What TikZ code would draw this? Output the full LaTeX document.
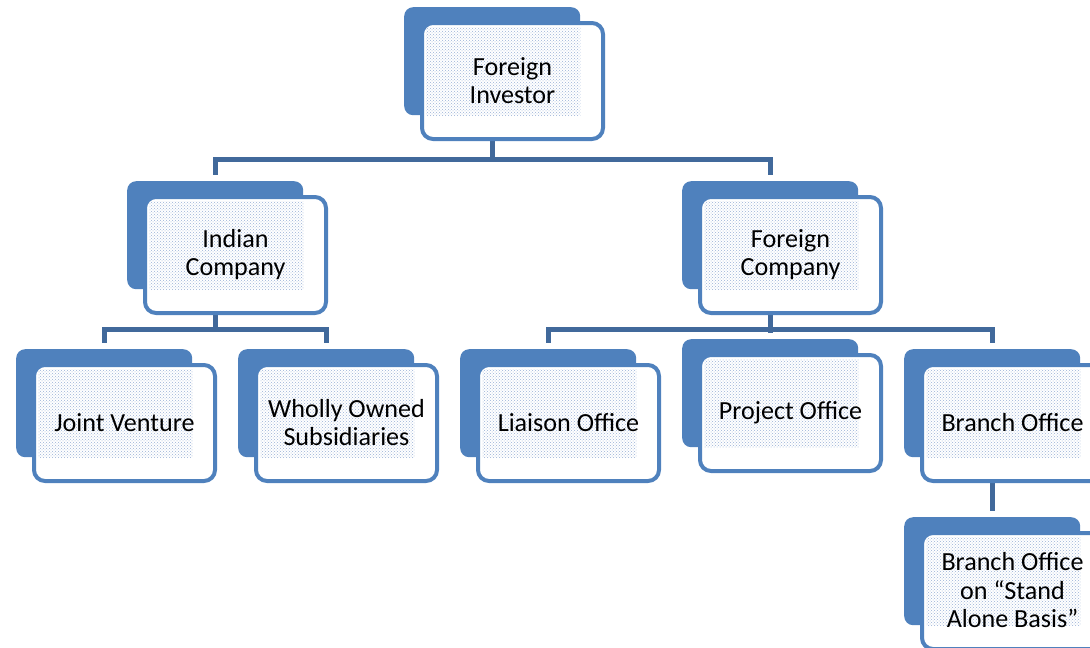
\documentclass[tikz,border=0pt]{standalone}
\usepackage{fontspec}
\setmainfont{Carlito}
\usepackage{tikz}
\usetikzlibrary{positioning,calc,patterns,backgrounds}

\definecolor{boxblue}{HTML}{4F81BD}
\definecolor{lineblue}{HTML}{41699B}
\definecolor{dotblue}{HTML}{9AB2D6}

\tikzset{
  backbox/.style={fill=boxblue, rounded corners=9pt, minimum width=176pt, minimum height=108pt, inner sep=0pt, anchor=north west},
  frontbox/.style={draw=boxblue, fill=white, line width=4pt, rounded corners=11pt, minimum width=181pt, minimum height=116pt, inner sep=0pt, anchor=north west},
  boxtext/.style={align=center, inner sep=0pt, font=\fontsize{26.1}{28.5}\selectfont},
  link/.style={draw=lineblue, line width=5pt},
}

% one unit of the chart: name, back box top-left (x,y), label
\newcommand{\orgunit}[4]{%
  \node[backbox] (#1-b) at (#2,#3) {};
  \node[frontbox] (#1-f) at ($(#1-b.north west)+(16,14)$) {};
  \fill[pattern=crosshatch dots, pattern color=dotblue] ($(#1-f.north west)+(6,6)$) rectangle (#1-b.south east);
  \node[boxtext] (#1) at ($(#1-f.center)+(0,-0.5)$) {#4};
}

\begin{document}
\begin{tikzpicture}[x=1pt, y=-1pt]
\useasboundingbox (0,0) rectangle (1090,648);
\clip (0,0) rectangle (1090,648);

% Top level
\orgunit{fi}{404}{7}{Foreign\\Investor}

% Second level
\orgunit{ic}{127}{181}{Indian\\Company}
\orgunit{fc}{682}{181}{Foreign\\Company}

% Third level
\orgunit{jv}{16}{349}{Joint Venture}
\orgunit{wo}{238}{349}{Wholly Owned\\Subsidiaries}
\orgunit{lo}{460}{349}{Liaison Office}
\orgunit{po}{682}{339}{Project Office}
\orgunit{bo}{904}{349}{Branch Office}

% Fourth level
\orgunit{sa}{904}{517}{Branch Office\\on “Stand\\Alone Basis”}

% Connectors
\coordinate (topbus) at (0,159);
\coordinate (lowbus) at (0,329);
\begin{scope}[on background layer]
\draw[link, shorten >=6pt] (fi-b.center) |- (topbus -| ic-b.north) -- (ic-b.north);
\draw[link, shorten >=6pt] (fi-b.center) |- (topbus -| fc-b.north) -- (fc-b.north);
\draw[link, shorten >=6pt] (ic-b.center) |- (lowbus -| jv-b.north) -- (jv-b.north);
\draw[link, shorten >=6pt] (ic-b.center) |- (lowbus -| wo-b.north) -- (wo-b.north);
\draw[link, shorten >=6pt] (fc-b.center) |- (lowbus -| lo-b.north) -- (lo-b.north);
\draw[link, shorten >=6pt] (fc-b.center) |- (lowbus -| po-b.north) -- (po-b.north);
\draw[link, shorten >=6pt] (fc-b.center) |- (lowbus -| bo-b.north) -- (bo-b.north);
\draw[link, shorten >=6pt] (bo-b.center) -- (sa-b.north);
\end{scope}
\end{tikzpicture}
\end{document}
